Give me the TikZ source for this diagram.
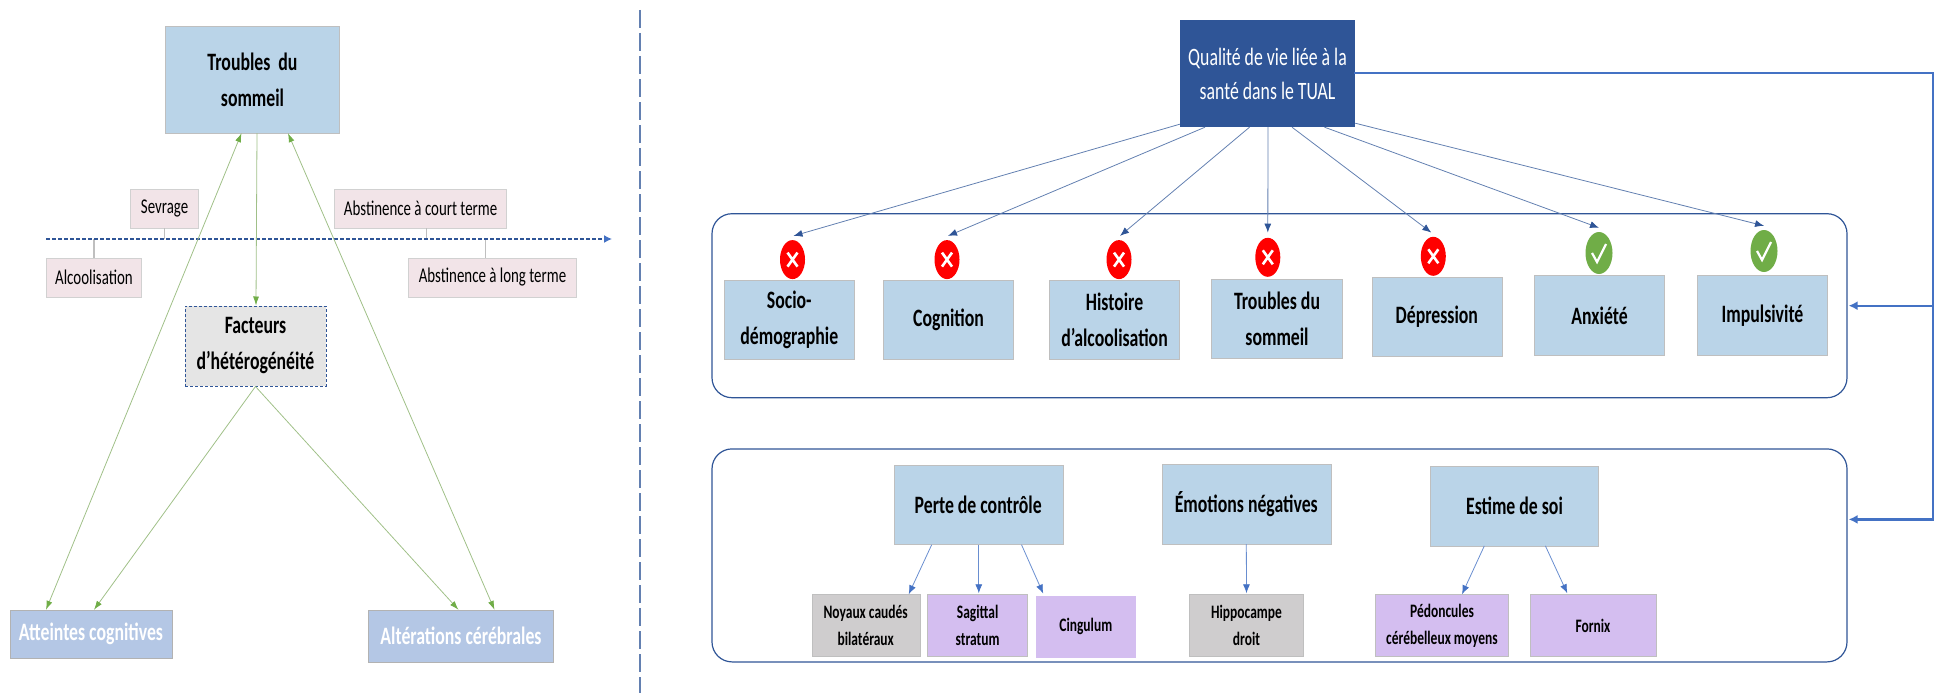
\documentclass[tikz,border=0pt]{standalone}
\usepackage{fontspec}
\setmainfont{Carlito}[FakeStretch=0.71]
\usetikzlibrary{arrows.meta,shapes.geometric}
\definecolor{paleblue}{HTML}{BAD4E8}
\definecolor{softblue}{HTML}{B4C7E5}
\definecolor{navy}{HTML}{2F5597}
\definecolor{linkblue}{HTML}{4472C4}
\definecolor{palepink}{HTML}{F2E4E8}
\definecolor{softgrey}{HTML}{CFCDCE}
\definecolor{softviolet}{HTML}{D4BEF0}
\definecolor{okgreen}{HTML}{70AD47}
\definecolor{thingreen}{HTML}{A0C088}
\tikzset{
  bluebox/.style={draw=black!25,fill=paleblue,align=center,inner sep=0pt,font=\fontsize{25}{36}\selectfont\bfseries},
  bigbox/.style={draw=black!30,fill=softblue,text=white,align=center,inner sep=0pt,font=\fontsize{25}{36}\selectfont\bfseries},
  pinkbox/.style={draw=black!18,fill=palepink,inner sep=0pt,font=\fontsize{21}{26}\selectfont},
  smallbox/.style={draw=black!25,align=center,inner sep=0pt,font=\fontsize{19}{27}\selectfont\bfseries},
  panel/.style={draw=navy,line width=1.2pt,rounded corners=20pt,inner sep=0pt},
  nobadge/.style={ellipse,fill=red,inner sep=0pt,minimum width=25pt,minimum height=39pt,
    path picture={\draw[white,line width=2.6pt] (path picture bounding box.center) ++(-5,-7) -- ++(10,14) ++(-10,0) -- ++(10,-14);}},
  yesbadge/.style={ellipse,fill=okgreen,inner sep=0pt,minimum width=27pt,minimum height=42pt,
    path picture={\draw[white,line width=2.2pt] (path picture bounding box.center) ++(-7,0) -- ++(5,9) -- ++(9,-18);}},
  greenlink/.style={draw=thingreen,line width=0.8pt,-{Latex[length=9pt,width=6pt,color=okgreen]}},
  bluelink/.style={draw=navy!75,line width=0.8pt,-{Latex[length=9pt,width=7pt,color=navy]}},
  sublink/.style={draw=linkblue!80,line width=0.8pt,-{Latex[length=9pt,width=7pt,color=linkblue]}},
  feedback/.style={draw=linkblue,line width=2.2pt},
  stub/.style={draw=black!25,line width=1.2pt}
}
\begin{document}
\begin{tikzpicture}[x=1pt,y=-1pt]
\useasboundingbox (0,0) rectangle (1935,693);
\coordinate (T0) at (46,239);
\coordinate (T1) at (612,239);
\coordinate (V0) at (640,10);
\coordinate (V1) at (640,693);
\coordinate (R) at (1933,73);
\node[bluebox,minimum width=174pt,minimum height=107pt] (sm) at (252.5,79.5) {Troubles \ du\\sommeil};
\node[pinkbox,minimum width=68pt,minimum height=39pt] (sv) at (164.6,208.5) {Sevrage};
\node[pinkbox,minimum width=172pt,minimum height=39pt] (ct) at (420.6,208.5) {Abstinence à court terme};
\node[pinkbox,minimum width=95pt,minimum height=39pt] (al) at (94,277.5) {Alcoolisation};
\node[pinkbox,minimum width=168pt,minimum height=39pt] (lg) at (492.5,277.5) {Abstinence à long terme};
\node[bluebox,fill=black!10,draw=navy,densely dashed,line width=1pt,minimum width=141pt,minimum height=80pt] (ft) at (255.5,346) {Facteurs\\d’hétérogénéité};
\node[bigbox,minimum width=162pt,minimum height=48pt] (at) at (91,634) {Atteintes cognitives};
\node[bigbox,minimum width=185pt,minimum height=52pt] (am) at (461,636) {Altérations cérébrales};
\draw[stub] (sv.south) -- (sv.south |- T0);
\draw[stub] ([xshift=6pt]ct.south) -- ([xshift=6pt]ct.south |- T0);
\draw[stub] (al.north) -- (al.north |- T0);
\draw[stub] ([xshift=-7pt]lg.north) -- ([xshift=-7pt]lg.north |- T0);
\draw[navy,line width=1.4pt,dash pattern=on 4pt off 2pt,-{Latex[length=8pt,width=8pt,color=linkblue]}] (T0) -- (T1);
\draw[navy!75,line width=1.6pt,dash pattern=on 18pt off 5pt] (V0) -- (V1);
\draw[greenlink] ([xshift=4.5pt]sm.south) -- ([xshift=0.5pt]ft.north);
\draw[greenlink,{Latex[length=9pt,width=6pt,color=okgreen]}-{Latex[length=9pt,width=6pt,color=okgreen]}] ([xshift=-11pt]sm.south) -- ([xshift=-45pt]at.north);
\draw[greenlink,{Latex[length=9pt,width=6pt,color=okgreen]}-{Latex[length=9pt,width=6pt,color=okgreen]}] ([xshift=35.5pt]sm.south) -- ([xshift=33.5pt]am.north);
\draw[greenlink] (ft.south) -- ([xshift=3pt]at.north);
\draw[greenlink] (ft.south) -- ([xshift=-2.5pt]am.north);
\node[panel,minimum width=1135pt,minimum height=184pt] (pa) at (1279.5,305.7) {};
\node[panel,minimum width=1135pt,minimum height=213pt] (pb) at (1279.5,555.4) {};
\node[fill=navy,text=white,align=center,inner sep=0pt,minimum width=175pt,minimum height=107pt,font=\fontsize{25}{34}\selectfont] (ql) at (1267.5,73.5) {Qualité de vie liée à la\\santé dans le TUAL};
\node[bluebox,minimum width=130pt,minimum height=79pt] (so) at (789.3,319.8) {Socio-\\démographie};
\node[bluebox,minimum width=130pt,minimum height=79pt] (co) at (948.5,319.8) {Cognition};
\node[bluebox,minimum width=130pt,minimum height=79pt] (hi) at (1114.5,319.8) {Histoire\\d’alcoolisation};
\node[bluebox,minimum width=131pt,minimum height=79pt] (ts) at (1277,319) {Troubles du\\sommeil};
\node[bluebox,minimum width=130pt,minimum height=79pt] (de) at (1436.8,316.8) {Dépression};
\node[bluebox,minimum width=130pt,minimum height=80pt] (an) at (1599.5,315.5) {Anxiété};
\node[bluebox,minimum width=130pt,minimum height=80pt] (im) at (1762.5,315.5) {Impulsivité};
\node[nobadge] (xa) at (792.5,259.6) {};
\node[nobadge] (xb) at (947,259.6) {};
\node[nobadge] (xc) at (1119,259.6) {};
\node[nobadge] (xd) at (1267.8,257.3) {};
\node[nobadge] (xe) at (1433.3,256.3) {};
\node[yesbadge] (va) at (1599,253) {};
\node[yesbadge] (vb) at (1764,251) {};
\draw[bluelink] ([yshift=3pt]ql.south west) -- ([shift={(1pt,4pt)}]xa.north);
\draw[bluelink] ([xshift=-62.5pt]ql.south) -- ([shift={(1pt,4pt)}]xb.north);
\draw[bluelink] ([xshift=-18pt]ql.south) -- ([shift={(1pt,4pt)}]xc.north);
\draw[bluelink] ([xshift=0.5pt]ql.south) -- ([yshift=5pt]xd.north);
\draw[bluelink] ([xshift=24.5pt]ql.south) -- ([shift={(-2pt,4pt)}]xe.north);
\draw[bluelink] ([xshift=57pt]ql.south) -- ([yshift=4pt]va.north);
\draw[bluelink] ([yshift=4pt]ql.south east) -- ([yshift=4pt]vb.north);
\coordinate (Q) at ([yshift=36pt]pb.east);
\draw[feedback,line cap=rect] (ql.east |- R) -- (R) -- (R |- Q);
\draw[feedback,-{Latex[length=9pt,width=9pt]}] (R |- pa.east) -- ([xshift=1pt]pa.east);
\draw[feedback,-{Latex[length=9pt,width=9pt]}] (R |- Q) -- ([xshift=1pt]Q);
\node[bluebox,minimum width=169pt,minimum height=79pt] (pc) at (978.2,505) {Perte de contrôle};
\node[bluebox,minimum width=169pt,minimum height=80pt] (en) at (1246.3,503.8) {Émotions négatives};
\node[bluebox,minimum width=168pt,minimum height=80pt] (es) at (1514.5,505.7) {Estime de soi};
\node[smallbox,fill=softgrey,minimum width=108pt,minimum height=62pt] (ny) at (865.7,625.5) {Noyaux caudés\\bilatéraux};
\node[smallbox,fill=softviolet,minimum width=100pt,minimum height=62pt] (sg) at (977.6,625.5) {Sagittal\\stratum};
\node[smallbox,fill=softviolet,draw=none,minimum width=100pt,minimum height=62pt] (cg) at (1085.8,626.8) {Cingulum};
\node[smallbox,fill=softgrey,minimum width=114pt,minimum height=62pt] (hp) at (1246.5,625.5) {Hippocampe\\droit};
\node[smallbox,fill=softviolet,minimum width=133pt,minimum height=62pt] (pd) at (1442,625.5) {Pédoncules\\cérébelleux moyens};
\node[smallbox,fill=softviolet,minimum width=126pt,minimum height=62pt] (fx) at (1593,625.5) {Fornix};
\draw[sublink] ([xshift=-46.5pt]pc.south) -- ([xshift=43pt]ny.north);
\draw[sublink] ([xshift=0.6pt]pc.south) -- ([xshift=1.2pt,yshift=1pt]sg.north);
\draw[sublink] ([xshift=43.3pt]pc.south) -- ([xshift=-42.6pt,yshift=2pt]cg.north);
\draw[sublink] (en.south) -- ([yshift=1pt]hp.north);
\draw[sublink] ([xshift=-30.2pt]es.south) -- ([xshift=20pt]pd.north);
\draw[sublink] ([xshift=30.9pt]es.south) -- ([xshift=-25.7pt,yshift=1pt]fx.north);
\end{tikzpicture}
\end{document}
